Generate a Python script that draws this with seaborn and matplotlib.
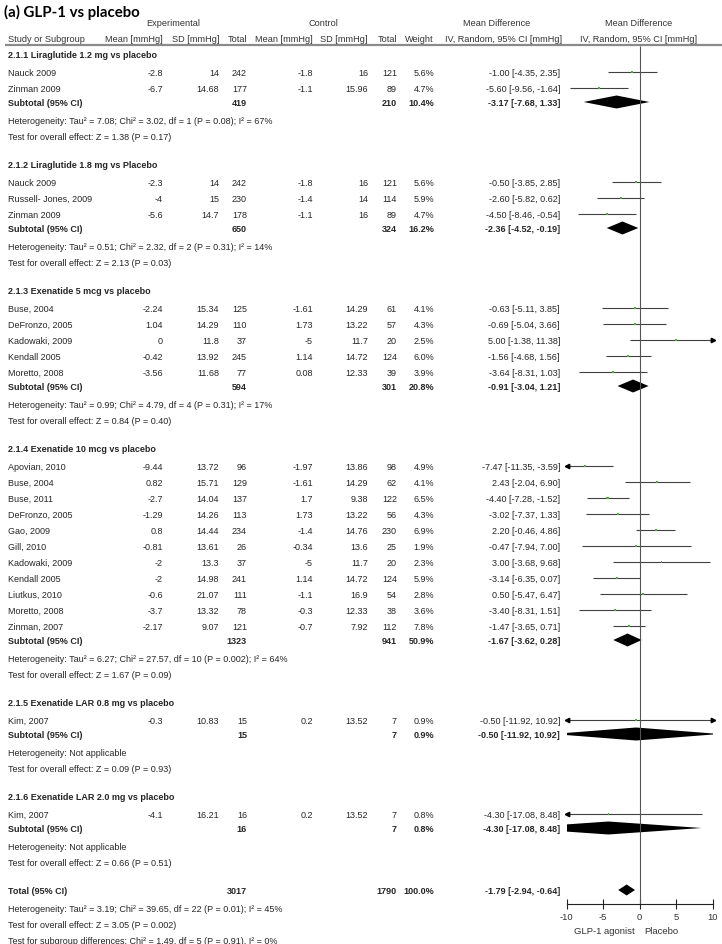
import matplotlib
matplotlib.use("Agg")
import matplotlib.pyplot as plt
import seaborn as sns
import pandas as pd

# ---- data ----
group_titles = ["2.1.1 Liraglutide 1.2 mg vs placebo",
                "2.1.2 Liraglutide 1.8 mg vs Placebo",
                "2.1.3 Exenatide 5 mcg vs placebo",
                "2.1.4 Exenatide 10 mcg vs placebo",
                "2.1.5 Exenatide LAR 0.8 mg vs placebo",
                "2.1.6 Exenatide LAR 2.0 mg vs placebo"]

study = ["Nauck 2009", "Zinman 2009",
         "Nauck 2009", "Russell- Jones, 2009", "Zinman 2009",
         "Buse, 2004", "DeFronzo, 2005", "Kadowaki, 2009", "Kendall 2005", "Moretto, 2008",
         "Apovian, 2010", "Buse, 2004", "Buse, 2011", "DeFronzo, 2005", "Gao, 2009", "Gill, 2010",
         "Kadowaki, 2009", "Kendall 2005", "Liutkus, 2010", "Moretto, 2008", "Zinman, 2007",
         "Kim, 2007",
         "Kim, 2007"]
study_group = [0, 0, 1, 1, 1, 2, 2, 2, 2, 2, 3, 3, 3, 3, 3, 3, 3, 3, 3, 3, 3, 4, 5]

exp_mean = [-2.8, -6.7, -2.3, -4, -5.6, -2.24, 1.04, 0, -0.42, -3.56,
            -9.44, 0.82, -2.7, -1.29, 0.8, -0.81, -2, -2, -0.6, -3.7, -2.17, -0.3, -4.1]
exp_sd = [14, 14.68, 14, 15, 14.7, 15.34, 14.29, 11.8, 13.92, 11.68,
          13.72, 15.71, 14.04, 14.26, 14.44, 13.61, 13.3, 14.98, 21.07, 13.32, 9.07, 10.83, 16.21]
exp_n = [242, 177, 242, 230, 178, 125, 110, 37, 245, 77,
         96, 129, 137, 113, 234, 26, 37, 241, 111, 78, 121, 15, 16]
ctl_mean = [-1.8, -1.1, -1.8, -1.4, -1.1, -1.61, 1.73, -5, 1.14, 0.08,
            -1.97, -1.61, 1.7, 1.73, -1.4, -0.34, -5, 1.14, -1.1, -0.3, -0.7, 0.2, 0.2]
ctl_sd = [16, 15.96, 16, 14, 16, 14.29, 13.22, 11.7, 14.72, 12.33,
          13.86, 14.29, 9.38, 13.22, 14.76, 13.6, 11.7, 14.72, 16.9, 12.33, 7.92, 13.52, 13.52]
ctl_n = [121, 89, 121, 114, 89, 61, 57, 20, 124, 39,
         98, 62, 122, 56, 230, 25, 20, 124, 54, 38, 112, 7, 7]
weight = [5.6, 4.7, 5.6, 5.9, 4.7, 4.1, 4.3, 2.5, 6.0, 3.9,
          4.9, 4.1, 6.5, 4.3, 6.9, 1.9, 2.3, 5.9, 2.8, 3.6, 7.8, 0.9, 0.8]
md = [-1.00, -5.60, -0.50, -2.60, -4.50, -0.63, -0.69, 5.00, -1.56, -3.64,
      -7.47, 2.43, -4.40, -3.02, 2.20, -0.47, 3.00, -3.14, 0.50, -3.40, -1.47, -0.50, -4.30]
ci_lo = [-4.35, -9.56, -3.85, -5.82, -8.46, -5.11, -5.04, -1.38, -4.68, -8.31,
         -11.35, -2.04, -7.28, -7.37, -0.46, -7.94, -3.68, -6.35, -5.47, -8.31, -3.65, -11.92, -17.08]
ci_hi = [2.35, -1.64, 2.85, 0.62, -0.54, 3.85, 3.66, 11.38, 1.56, 1.03,
         -3.59, 6.90, -1.52, 1.33, 4.86, 7.00, 9.68, 0.07, 6.47, 1.51, 0.71, 10.92, 8.48]

sub_exp_n = [419, 650, 594, 1323, 15, 16]
sub_ctl_n = [210, 324, 301, 941, 7, 7]
sub_weight = [10.4, 16.2, 20.8, 50.9, 0.9, 0.8]
sub_md = [-3.17, -2.36, -0.91, -1.67, -0.50, -4.30]
sub_lo = [-7.68, -4.52, -3.04, -3.62, -11.92, -17.08]
sub_hi = [1.33, -0.19, 1.21, 0.28, 10.92, 8.48]
sub_het = ["Heterogeneity: Tau\u00b2 = 7.08; Chi\u00b2 = 3.02, df = 1 (P = 0.08); I\u00b2 = 67%",
           "Heterogeneity: Tau\u00b2 = 0.51; Chi\u00b2 = 2.32, df = 2 (P = 0.31); I\u00b2 = 14%",
           "Heterogeneity: Tau\u00b2 = 0.99; Chi\u00b2 = 4.79, df = 4 (P = 0.31); I\u00b2 = 17%",
           "Heterogeneity: Tau\u00b2 = 6.27; Chi\u00b2 = 27.57, df = 10 (P = 0.002); I\u00b2 = 64%",
           "Heterogeneity: Not applicable",
           "Heterogeneity: Not applicable"]
sub_z = ["Test for overall effect: Z = 1.38 (P = 0.17)",
         "Test for overall effect: Z = 2.13 (P = 0.03)",
         "Test for overall effect: Z = 0.84 (P = 0.40)",
         "Test for overall effect: Z = 1.67 (P = 0.09)",
         "Test for overall effect: Z = 0.09 (P = 0.93)",
         "Test for overall effect: Z = 0.66 (P = 0.51)"]

total_exp_n, total_ctl_n, total_weight = 3017, 1790, 100.0
total_md, total_lo, total_hi = -1.79, -2.94, -0.64
total_notes = ["Heterogeneity: Tau\u00b2 = 3.19; Chi\u00b2 = 39.65, df = 22 (P = 0.01); I\u00b2 = 45%",
               "Test for overall effect: Z = 3.05 (P = 0.002)",
               "Test for subgroup differences: Chi\u00b2 = 1.49, df = 5 (P = 0.91), I\u00b2 = 0%"]

xticks = [-10, -5, 0, 5, 10]
favours = ["GLP-1 agonist", "Placebo"]

# ---- style ----
sns.set_theme(style="white")
plt.rcParams["font.family"] = ["Liberation Sans", "DejaVu Sans"]
TXT = "#262626"
FS = 6.5
GREEN = "#4caf3f"

fig = plt.figure(figsize=(7.22, 9.45), dpi=100)
ax = fig.add_axes([0, 0, 1, 1])
ax.set_xlim(0, 722)
ax.set_ylim(945, 0)
ax.axis("off")

# forest panel, same vertical pixel scale as the text layer
AX_BOTTOM = 905
fx = fig.add_axes([566.7 / 722, (945 - AX_BOTTOM) / 945, 146 / 722, AX_BOTTOM / 945])
fx.set_xlim(-10, 10)
fx.set_ylim(AX_BOTTOM, 0)
fx.patch.set_alpha(0)

cols = [163, 219, 247, 313, 368, 397, 434, 560]


def put(x, y, s, ha="right", bold=False, size=FS, color=TXT):
    ax.text(x, y, s, ha=ha, va="center", fontsize=size, color=color,
            fontweight="bold" if bold else "normal")


# title and headers
ax.text(4, 12, "(a) GLP-1 vs placebo", fontsize=10.8, fontweight="bold",
        family=["Lato", "DejaVu Sans"], va="center", ha="left", color="black")
HFS = 6.6
put(173, 24, "Experimental", ha="center", size=HFS, color="#333333")
put(323, 24, "Control", ha="center", size=HFS, color="#333333")
put(497, 24, "Mean Difference", ha="center", size=HFS, color="#333333")
put(639, 24, "Mean Difference", ha="center", size=HFS, color="#333333")
put(8, 40, "Study or Subgroup", ha="left", size=HFS, color="#333333")
for x, s in zip(cols[:7] + [562], ["Mean [mmHg]", "SD [mmHg]", "Total", "Mean [mmHg]",
                                 "SD [mmHg]", "Total", "Weight", "IV, Random, 95% CI [mmHg]"]):
    put(x, 40, s, size=HFS, color="#333333")
put(639, 40, "IV, Random, 95% CI [mmHg]", ha="center", size=HFS, color="#333333")
ax.hlines(45.5, 5, 722, color="#8a8a8a", lw=1.6)


def ci_text(m, lo, hi):
    return f"{m:.2f} [{lo:.2f}, {hi:.2f}]"


def draw_ci(y, lo, hi):
    a, b = max(lo, -10), min(hi, 10)
    fx.hlines(y, a, b, color="#404040", lw=0.8)
    if lo < -10:
        fx.plot(-10, y, marker="<", ms=3.2, color="black", clip_on=False)
    if hi > 10:
        fx.plot(10, y, marker=">", ms=3.2, color="black", clip_on=False)


def diamond(y, m, lo, hi, h):
    fx.fill([lo, m, hi, m], [y, y - h, y, y + h], color="black", lw=0)


# ---- rows ----
square_x, square_y, square_w = [], [], []
y = 56
for g, title in enumerate(group_titles):
    put(8, y, title, ha="left", bold=True)
    idx = [i for i, sg in enumerate(study_group) if sg == g]
    y += 17
    for k, i in enumerate(idx):
        put(8, y, study[i], ha="left")
        vals = [f"{exp_mean[i]:g}", f"{exp_sd[i]:g}", f"{exp_n[i]}", f"{ctl_mean[i]:g}",
                f"{ctl_sd[i]:g}", f"{ctl_n[i]}", f"{weight[i]:.1f}%",
                ci_text(md[i], ci_lo[i], ci_hi[i])]
        for x, s in zip(cols, vals):
            put(x, y, s)
        draw_ci(y, ci_lo[i], ci_hi[i])
        square_x.append(md[i])
        square_y.append(y)
        square_w.append(weight[i])
        y += 16 if k < len(idx) - 1 else 14
    put(8, y, "Subtotal (95% CI)", ha="left", bold=True)
    for x, s in zip([cols[2], cols[5], cols[6], cols[7]],
                    [f"{sub_exp_n[g]}", f"{sub_ctl_n[g]}", f"{sub_weight[g]:.1f}%",
                     ci_text(sub_md[g], sub_lo[g], sub_hi[g])]):
        put(x, y, s, bold=True)
    diamond(y, sub_md[g], sub_lo[g], sub_hi[g], 6.5)
    y += 18
    put(8, y, sub_het[g], ha="left")
    y += 16
    put(8, y, sub_z[g], ha="left")
    y += 29 if g < len(group_titles) - 1 else 28

put(8, y, "Total (95% CI)", ha="left", bold=True)
for x, s in zip([cols[2], cols[5], cols[6], cols[7]],
                [f"{total_exp_n}", f"{total_ctl_n}", f"{total_weight:.1f}%",
                 ci_text(total_md, total_lo, total_hi)]):
    put(x, y, s, bold=True)
diamond(y, total_md, total_lo, total_hi, 5.5)
y += 18
for note in total_notes:
    put(8, y, note, ha="left")
    y += 16

sq = pd.DataFrame({"md": square_x, "y": square_y, "w": square_w})
sns.scatterplot(data=sq, x="md", y="y", size="w", sizes=(1.2, 3), marker="s",
                color=GREEN, linewidth=0, legend=False, ax=fx, zorder=5)

fx.vlines(0, 47, AX_BOTTOM, color="#555555", lw=0.8)

# axis
sns.despine(ax=fx, left=True)
fx.spines["bottom"].set_color("#222222")
fx.spines["bottom"].set_linewidth(0.8)
fx.set_xticks(xticks)
fx.set_xticklabels([f"{t}" for t in xticks])
fx.set_yticks([])
fx.tick_params(axis="x", direction="inout", length=7, width=0.8, color="#222222",
               labelsize=6.8, labelcolor="#333333", pad=2, bottom=True)
fx.set_xlabel("")
fx.set_ylabel("")
fx.text(-0.7, 931, favours[0], ha="right", va="center", fontsize=6.8, color="#333333", clip_on=False)
fx.text(0.6, 931, favours[1], ha="left", va="center", fontsize=6.8, color="#333333", clip_on=False)

fig.savefig("out.png", dpi=100, facecolor="white")
